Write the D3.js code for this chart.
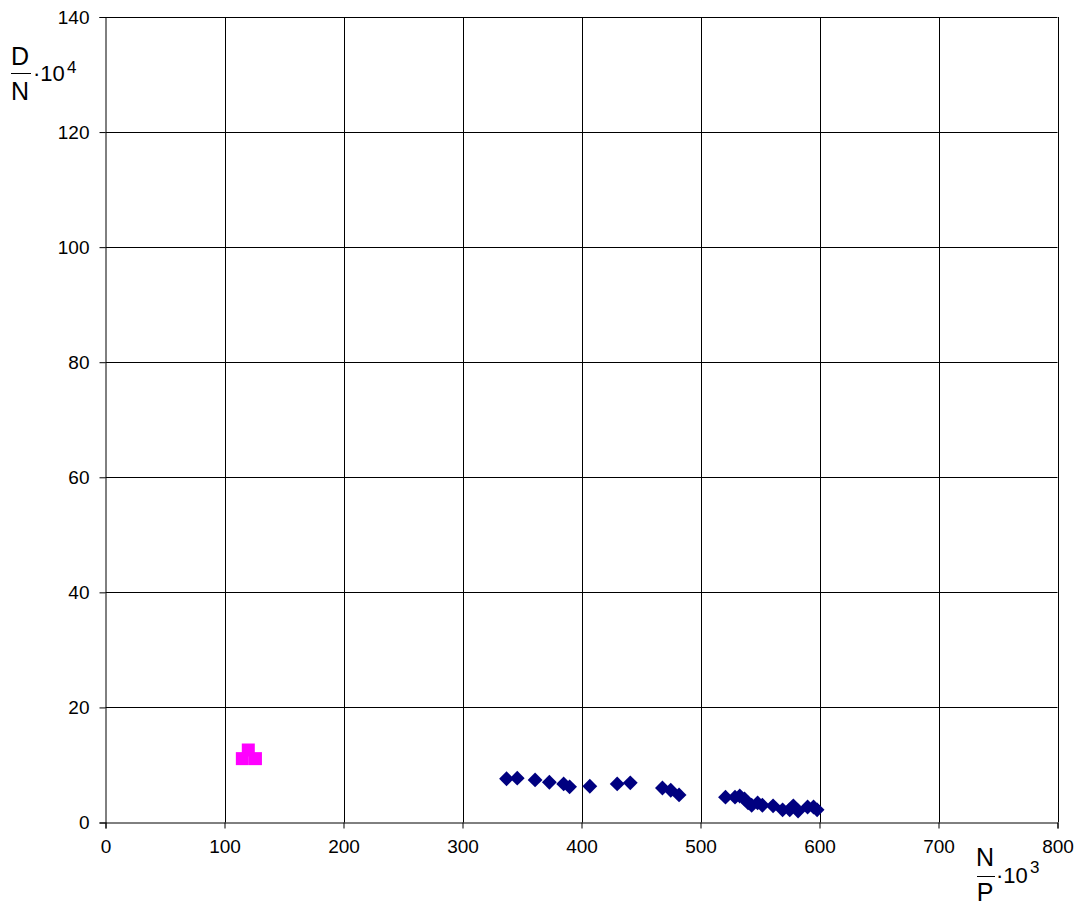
<!DOCTYPE html>
<html>
<head>
<meta charset="utf-8">
<script src="https://cdn.jsdelivr.net/npm/d3@7"></script>
<style>
  body { margin: 0; background: #fff; }
  text { font-family: "Liberation Sans", Arial, sans-serif; }
</style>
</head>
<body>
<svg id="chart" width="1081" height="909"></svg>
<script>
// Series 1 (navy diamonds): x = N/P·10^3, y = D/N·10^4
const diamondX = [337, 346, 361, 373, 385, 390, 407, 430, 441, 468, 475, 482, 521, 529, 533, 537, 540, 543, 548, 552, 561, 569, 575, 578, 582, 590, 595, 598];
const diamondY = [7.6, 7.7, 7.4, 7.0, 6.7, 6.2, 6.3, 6.7, 6.9, 6.0, 5.6, 4.8, 4.4, 4.4, 4.6, 4.1, 3.4, 3.0, 3.4, 3.0, 2.9, 2.2, 2.2, 2.9, 2.0, 2.7, 2.7, 2.2];
// Series 2 (magenta squares)
const squareX = [115, 126, 120];
const squareY = [11.1, 11.1, 12.6];
// Axis ticks
const xTicks = [0, 100, 200, 300, 400, 500, 600, 700, 800];
const yTicks = [0, 20, 40, 60, 80, 100, 120, 140];

const svg = d3.select("#chart");
const pLeft = 105.5, pTop = 17, pRight = 1057.5, pBottom = 822.5;

const x = d3.scaleLinear().domain([0, 800]).range([pLeft, pRight]);
const y = d3.scaleLinear().domain([0, 140]).range([pBottom, pTop]);

// Gridlines
svg.append("g").selectAll("line").data(xTicks.slice(1)).join("line")
  .attr("x1", d => Math.round(x(d)) + 0.5).attr("x2", d => Math.round(x(d)) + 0.5)
  .attr("y1", pTop).attr("y2", pBottom)
  .attr("stroke", "#000").attr("stroke-width", 1);
svg.append("g").selectAll("line").data(yTicks.slice(1)).join("line")
  .attr("x1", pLeft).attr("x2", pRight)
  .attr("y1", d => Math.round(y(d)) + 0.5).attr("y2", d => Math.round(y(d)) + 0.5)
  .attr("stroke", "#000").attr("stroke-width", 1);

// Axes
const xAxis = d3.axisBottom(x).tickValues(xTicks).tickSize(6).tickPadding(11).tickFormat(d3.format("d"));
const yAxis = d3.axisLeft(y).tickValues(yTicks).tickSize(6).tickPadding(10).tickFormat(d3.format("d"));

const gx = svg.append("g").attr("transform", `translate(0,${pBottom})`).call(xAxis);
const gy = svg.append("g").attr("transform", `translate(${pLeft},0)`).call(yAxis);
[gx, gy].forEach(g => {
  g.attr("font-size", 19).attr("font-family", "'Liberation Sans', Arial, sans-serif");
  g.select(".domain").attr("stroke", "#000");
  g.selectAll(".tick line").attr("stroke", "#000");
  g.selectAll(".tick text").attr("fill", "#000");
});

// Data points: diamonds
const diamondPts = diamondX.map((v, i) => [v, diamondY[i]]);
svg.append("g").selectAll("path").data(diamondPts).join("path")
  .attr("transform", d => `translate(${x(d[0])},${y(d[1])})`)
  .attr("d", d3.symbol(d3.symbolDiamond2, 140)())
  .attr("fill", "#000080");

// Squares
const squarePts = squareX.map((v, i) => [v, squareY[i]]);
svg.append("g").selectAll("rect").data(squarePts).join("rect")
  .attr("x", d => x(d[0]) - 6.5).attr("y", d => y(d[1]) - 6.5)
  .attr("width", 13).attr("height", 13)
  .attr("fill", "#FF00FF");

// Y axis title: D/N · 10^4
const yt = svg.append("g").attr("font-family", "'Liberation Sans', Arial, sans-serif").attr("fill", "#000");
yt.append("text").attr("x", 20).attr("y", 65).attr("text-anchor", "middle").style("font-size", "25px").text("D");
yt.append("line").attr("x1", 11).attr("x2", 31).attr("y1", 73.5).attr("y2", 73.5).attr("stroke", "#000").attr("stroke-width", 1);
yt.append("text").attr("x", 20).attr("y", 100).attr("text-anchor", "middle").style("font-size", "25px").text("N");
yt.append("text").attr("x", 33).attr("y", 81).style("font-size", "22px").text("·10");
yt.append("text").attr("x", 67).attr("y", 72.5).style("font-size", "17px").text("4");

// X axis title: N/P · 10^3
const xt = svg.append("g").attr("font-family", "'Liberation Sans', Arial, sans-serif").attr("fill", "#000");
xt.append("text").attr("x", 985).attr("y", 866).attr("text-anchor", "middle").style("font-size", "25px").text("N");
xt.append("line").attr("x1", 977).attr("x2", 995).attr("y1", 876.5).attr("y2", 876.5).attr("stroke", "#000").attr("stroke-width", 1);
xt.append("text").attr("x", 985).attr("y", 901).attr("text-anchor", "middle").style("font-size", "25px").text("P");
xt.append("text").attr("x", 996).attr("y", 883).style("font-size", "22px").text("·10");
xt.append("text").attr("x", 1030).attr("y", 873).style("font-size", "17px").text("3");
</script>
</body>
</html>
